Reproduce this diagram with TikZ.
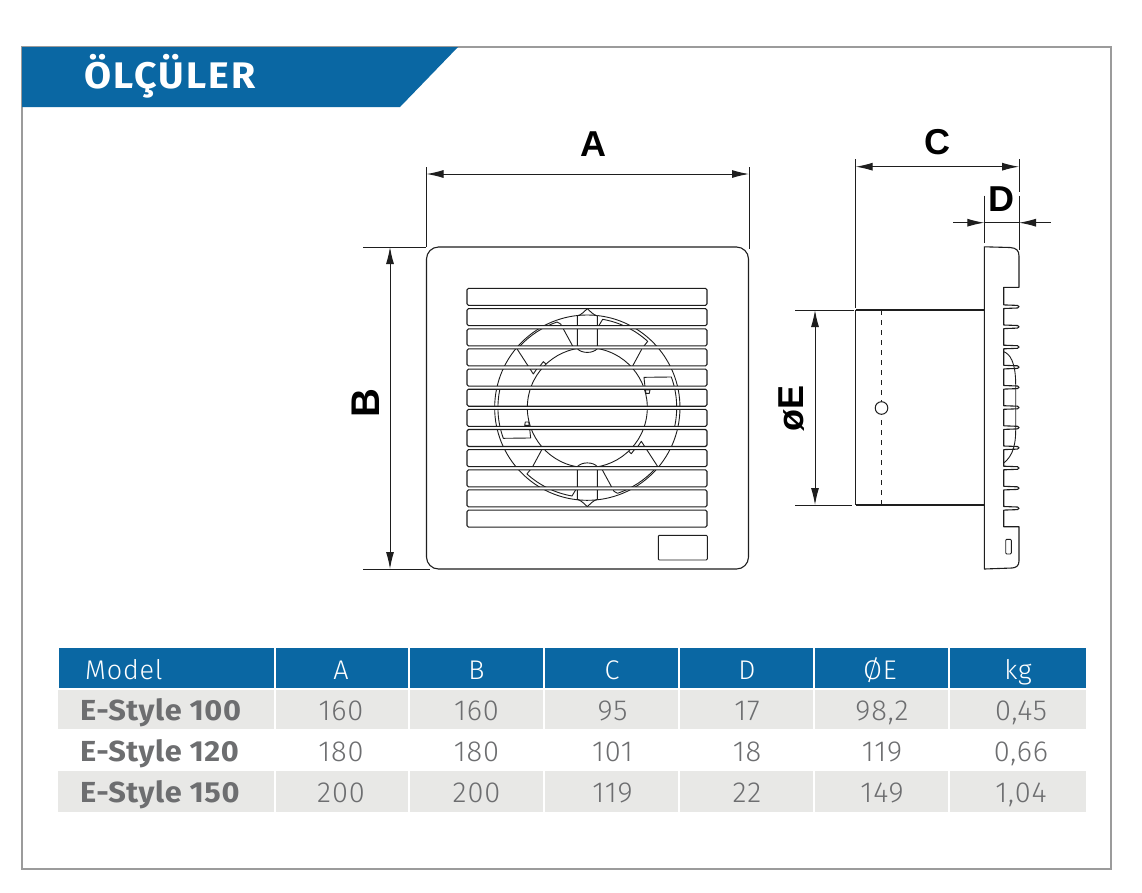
\documentclass[tikz,border=0pt]{standalone}
\usepackage{fontspec}
\usetikzlibrary{arrows.meta}
\setmainfont{Liberation Sans}
\newfontfamily\tlight[LetterSpace=3]{Fira Sans Light}
\newfontfamily\tbold[LetterSpace=2,FakeStretch=1.06]{Fira Sans}[UprightFont=*,BoldFont=* Bold]
\newfontfamily\ttitle[LetterSpace=6,FakeStretch=1.06]{Fira Sans}[UprightFont=*,BoldFont=* Bold]
\definecolor{bblue}{HTML}{0A67A3}
\definecolor{rowgrey}{HTML}{E8E8E6}
\definecolor{txtgrey}{HTML}{6D6E70}
\definecolor{framegrey}{HTML}{9B9B9B}
\definecolor{ink}{HTML}{1E1E1E}
\tikzset{
  x=1pt,y=-1pt,
  part/.style={draw=ink,line width=1.1pt,line join=round},
  thinpart/.style={draw=ink,line width=0.9pt,line join=round},
  dim/.style={draw=ink,line width=1pt},
  dimarrow/.style={draw=ink,line width=1pt,{Latex[length=17pt,width=8pt]}-{Latex[length=17pt,width=8pt]}},
  onearrow/.style={draw=ink,line width=1pt,-{Latex[length=17pt,width=8pt]}},
  dimlabel/.style={font=\fontsize{36}{36}\selectfont\bfseries,text=black,inner sep=0pt},
  dimlabelrot/.style={font=\fontsize{40}{40}\selectfont\bfseries,text=black,inner sep=0pt,rotate=90},
  headtxt/.style={font=\fontsize{27}{27}\selectfont\tlight,text=white,inner sep=0pt},
  numtxt/.style={font=\fontsize{29}{29}\selectfont\tlight,text=txtgrey,inner sep=0pt},
  modtxt/.style={font=\fontsize{29}{29}\selectfont\tbold\bfseries,text=txtgrey,inner sep=0pt,anchor=base west},
}
\begin{document}
\begin{tikzpicture}
\useasboundingbox (0,0) rectangle (1142,892);
\fill[white] (0,0) rectangle (1142,892);
% frame and banner
\draw[framegrey,line width=2pt] (22,46.5) rectangle (1111,869);
\fill[bblue] (22,47) -- (458,47) -- (400,107) -- (22,107) -- cycle;
\node[font=\fontsize{37}{37}\selectfont\ttitle\bfseries,text=white,anchor=base west,inner sep=0pt] (title) at (84,88.5) {ÖLÇÜLER};
% front plate
\draw[part,rounded corners=12pt] (426.5,247) rectangle (748.5,569);
\draw[thinpart,rounded corners=1pt] (658.3,535.3) rectangle (707.3,560);
% fan in zoom coordinates
\begin{scope}[shift={(420,240)},x=0.3333pt,y=-0.3333pt]
\foreach \r in {0,180}{
\begin{scope}[rotate around={\r:(502,503)}]
  % outer ring
  \draw[thinpart] (502,503) ++(-83.8:278) arc[start angle=-83.8,end angle=96.2,radius=278];
  % inner ring
  \draw[thinpart] (502,503) ++(-80.4:180) arc[start angle=-80.4,end angle=99.6,radius=180];
  % top tab
  \draw[thinpart] (472,326) -- (472,228) .. controls (485,224) and (493,214) .. (502,206) .. controls (511,214) and (519,224) .. (532,228) -- (532,326);
  \draw[thinpart] (472,326) .. controls (485,341) and (519,341) .. (532,326);
  % upper right blade
  \draw[thinpart] (536,258) -- (548,238) arc[start angle=-80.2,end angle=-47.7,radius=269] -- (672,318);
  \draw[thinpart] (665,328) -- (638,378);
  % right slot
  \draw[thinpart] (676,450) -- (672,412) -- (754,411) arc[start angle=-20,end angle=12,radius=268];
  \draw[thinpart] (676,450) -- (690,450) -- (688,460) -- (678,460) -- (676,450);
  % upper left blade
  \draw[thinpart] (300,318) arc[start angle=-137,end angle=-108.8,radius=272] -- (422,252) -- (458,318);
  \draw[thinpart] (290,325) -- (340,402) -- (352,384);
  \draw[thinpart] (360,378) -- (370,365) -- (378,372);
\end{scope}}
\end{scope}
% gaps between the louvres hide the fan, louvres are drawn over it
\foreach \t in {305.8,325.9,346.1,366.2,386.4,406.5,426.6,446.8,466.9,487.1,507.2}{
  \fill[white] (467,\t) rectangle (707,\t+3.2);
}
\foreach \t in {288.3,308.6,328.8,348.9,369.1,389.2,409.3,429.5,449.6,469.8,489.9,510.1}{
  \draw[part,rounded corners=1.5pt] (467,\t) rectangle (707,\t+17);
}
% side view
\draw[part] (855.7,310) -- (984.3,310);
\draw[part] (855.7,505) -- (984.3,505);
\draw[part] (855.7,310) -- (855.7,505);
\draw[thinpart,dash pattern=on 5pt off 5pt] (881.5,310) -- (881.5,505);
\node[circle,draw=ink,fill=white,line width=1pt,minimum size=12.6pt,inner sep=0pt] (pin) at (881.5,408) {};
\draw[thinpart] (1003.7,351.7) .. controls (1010,354) and (1015.7,362) .. (1015.7,385) -- (1015.7,430) .. controls (1015.7,450) and (1010,458) .. (1003.7,463);
\draw[part] (984.3,246.8) -- (1010,247.5) .. controls (1016,248) and (1019,250) .. (1019,256) -- (1019,287.3) -- (1003.7,287.3)
  \foreach \f in {306.7,326.8,347,367.1,387.3,407.5,427.6,447.8,468,488.1,508.3}{
    -- (1003.7,\f-1.8) -- (1017.5,\f-1.3) -- (1019,\f) -- (1017.5,\f+1.3) -- (1003.7,\f+1.8)
  }
  -- (1003.7,526.7) -- (1019,526.7) -- (1019,561) .. controls (1019,566) and (1016,567.6) .. (1012,568) -- (984.3,569) -- cycle;
\draw[thinpart,rounded corners=1pt] (1005.7,539.3) rectangle (1011.3,554);
% named end points of the dimensions
\coordinate (aL) at (426.5,174); \coordinate (aR) at (749,174);
\coordinate (bT) at (390,247);   \coordinate (bB) at (390,569);
\coordinate (cL) at (855.7,166.7); \coordinate (cR) at (1019,166.7);
\coordinate (dL) at (984.3,222.7); \coordinate (dR) at (1019,222.7);
\coordinate (dOL) at (953.3,222.7); \coordinate (dOR) at (1050.7,222.7);
\coordinate (eT) at (815,310);   \coordinate (eB) at (815,505);
% extension lines
\draw[dim] (426.5,167) -- (426.5,247);
\draw[dim] (749,167) -- (749,249);
\draw[dim] (363,247) -- (426,247);
\draw[dim] (363,569) -- (430,569);
\draw[dim] (855.7,159) -- (855.7,308);
\draw[dim] (1019,159) -- (1019,191.5);
\draw[dim] (1019,195.5) -- (1019,250);
\draw[dim] (984.3,195.7) -- (984.3,242.7);
\draw[dim] (795,310) -- (853.5,310);
\draw[dim] (795,505) -- (852,505);
% dimensions
\draw[dimarrow] (aL) -- (aR);
\draw[dimarrow] (bT) -- (bB);
\draw[dimarrow] (cL) -- (cR);
\draw[dimarrow] (eT) -- (eB);
\draw[onearrow] (dOL) -- (dL);
\draw[onearrow] (dOR) -- (dR);
\draw[dim] (dL) -- (dR);
\node[dimlabel] (lA) at (593,144) {A};
\node[dimlabelrot] (lB) at (366,403) {B};
\node[dimlabel] (lC) at (937,142) {C};
\node[dimlabel] (lD) at (1001,199) {D};
\node[dimlabel,rotate=90] (lE) at (791.5,408) {øE};
% table
\foreach \xa/\xb in {59/274,275.7/408.3,410/543.3,545/678,679.7/813,814.7/948,949.7/1086}{
  \fill[bblue] (\xa,648.3) rectangle (\xb,687.7);
}
\foreach \xa/\xb in {58/274,275.7/408.3,410/543.3,545/678,679.7/813,814.7/948,949.7/1086}{
  \fill[rowgrey] (\xa,690) rectangle (\xb,728.7);
  \fill[rowgrey] (\xa,771) rectangle (\xb,812.3);
}
\node[headtxt,anchor=base west] (hM) at (85,679) {Model};
\foreach \n/\cx/\txt in {hA/341/A,hB/476.5/B,hC/612/C,hD/747/D,hE/880/ØE,hK/1018/kg}{
  \node[headtxt,anchor=base] (\n) at (\cx,679) {\txt};
}
\node[modtxt] (m1) at (80,720) {E-Style 100};
\node[modtxt] (m2) at (80,761) {E-Style 120};
\node[modtxt] (m3) at (80,802) {E-Style 150};
\foreach \cx/\cid/\va/\vb/\vc in {341/A/160/180/200,476.5/B/160/180/200,612.5/C/95/101/119,747/D/17/18/22,882/E/{98,2}/119/149,1021/K/{0,45}/{0,66}/{1,04}}{
  \node[numtxt,anchor=base] (r1\cid) at (\cx,720) {\va};
  \node[numtxt,anchor=base] (r2\cid) at (\cx,761) {\vb};
  \node[numtxt,anchor=base] (r3\cid) at (\cx,802) {\vc};
}
\end{tikzpicture}
\end{document}
